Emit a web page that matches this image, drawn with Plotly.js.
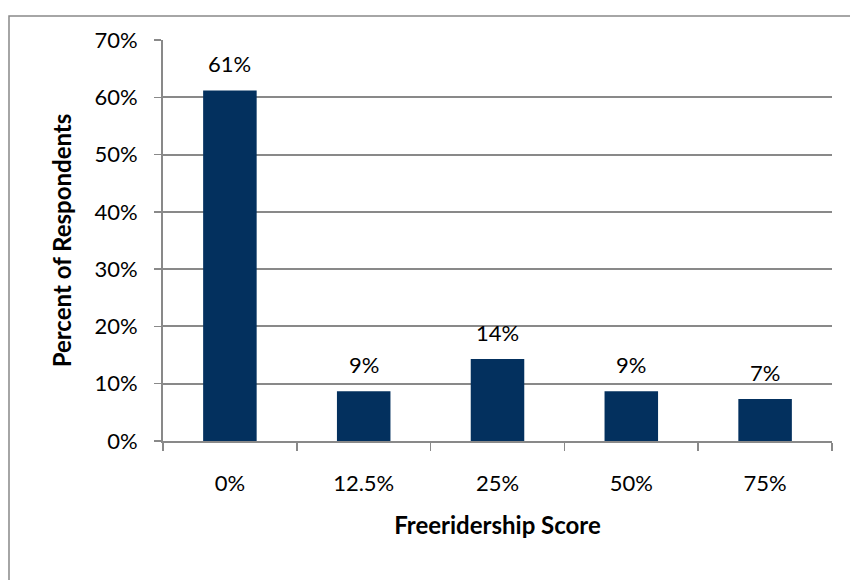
<!DOCTYPE html>
<html>
<head>
<meta charset="utf-8">
<script src="https://cdn.plot.ly/plotly-3.0.1.min.js"></script>
<style>html,body{margin:0;padding:0;background:#fff;}#chart{width:850px;height:580px;}</style>
</head>
<body>
<div id="chart"></div>
<script>
const categories = ["0%", "12.5%", "25%", "50%", "75%"];
const values = [61.2, 8.7, 14.3, 8.7, 7.35];
const labels = ["61%", "9%", "14%", "9%", "7%"];
const yTickVals = [0, 10, 20, 30, 40, 50, 60, 70];
const yTickText = ["0%", "10%", "20%", "30%", "40%", "50%", "60%", "70%"];

const FONT = "Lato, 'Open Sans', sans-serif";

const trace = {
  type: "bar",
  x: categories,
  y: values,
  marker: {color: "#03305E"},
  width: 0.4,
  hoverinfo: "none"
};

const annotations = categories.map((c, i) => ({
  x: c, y: values[i], xref: "x", yref: "y",
  text: labels[i], showarrow: false,
  yanchor: "bottom", yshift: 11,
  font: {family: FONT, size: 22, color: "#000"}
}));

const layout = {
  width: 850, height: 580,
  margin: {l: 163, r: 18, t: 40, b: 139},
  paper_bgcolor: "#fff", plot_bgcolor: "#fff",
  showlegend: false,
  font: {family: FONT, size: 22, color: "#000"},
  xaxis: {
    type: "category",
    showline: true, linecolor: "#898989", linewidth: 2,
    ticks: "outside", ticklen: 8, tickcolor: "#898989", tickwidth: 1.5,
    tickson: "boundaries",
    ticklabelstandoff: 22,
    tickfont: {family: FONT, size: 22, color: "#000"},
    title: {text: "Freeridership Score", font: {family: FONT, size: 24, color: "#000", weight: "bold"}, standoff: 22},
    showgrid: false, fixedrange: true
  },
  yaxis: {
    range: [0, 70],
    tickvals: yTickVals, ticktext: yTickText,
    showline: true, linecolor: "#898989", linewidth: 2,
    ticks: "outside", ticklen: 7, tickcolor: "#898989", tickwidth: 1.5,
    ticklabelstandoff: 12,
    showgrid: true, gridcolor: "#898989", gridwidth: 2,
    zeroline: false,
    tickfont: {family: FONT, size: 22, color: "#000"},
    title: {text: "Percent of Respondents", font: {family: FONT, size: 24, color: "#000", weight: "bold"}, standoff: 16},
    fixedrange: true
  },
  annotations: annotations,
  shapes: [{
    type: "rect", xref: "paper", yref: "paper",
    x0: -0.2302, x1: 1.03, y0: -0.45, y1: 1.06,
    line: {color: "#898989", width: 1.5}, fillcolor: "rgba(0,0,0,0)", layer: "below"
  }]
};

Plotly.newPlot("chart", [trace], layout, {displayModeBar: false, staticPlot: true});
</script>
</body>
</html>
